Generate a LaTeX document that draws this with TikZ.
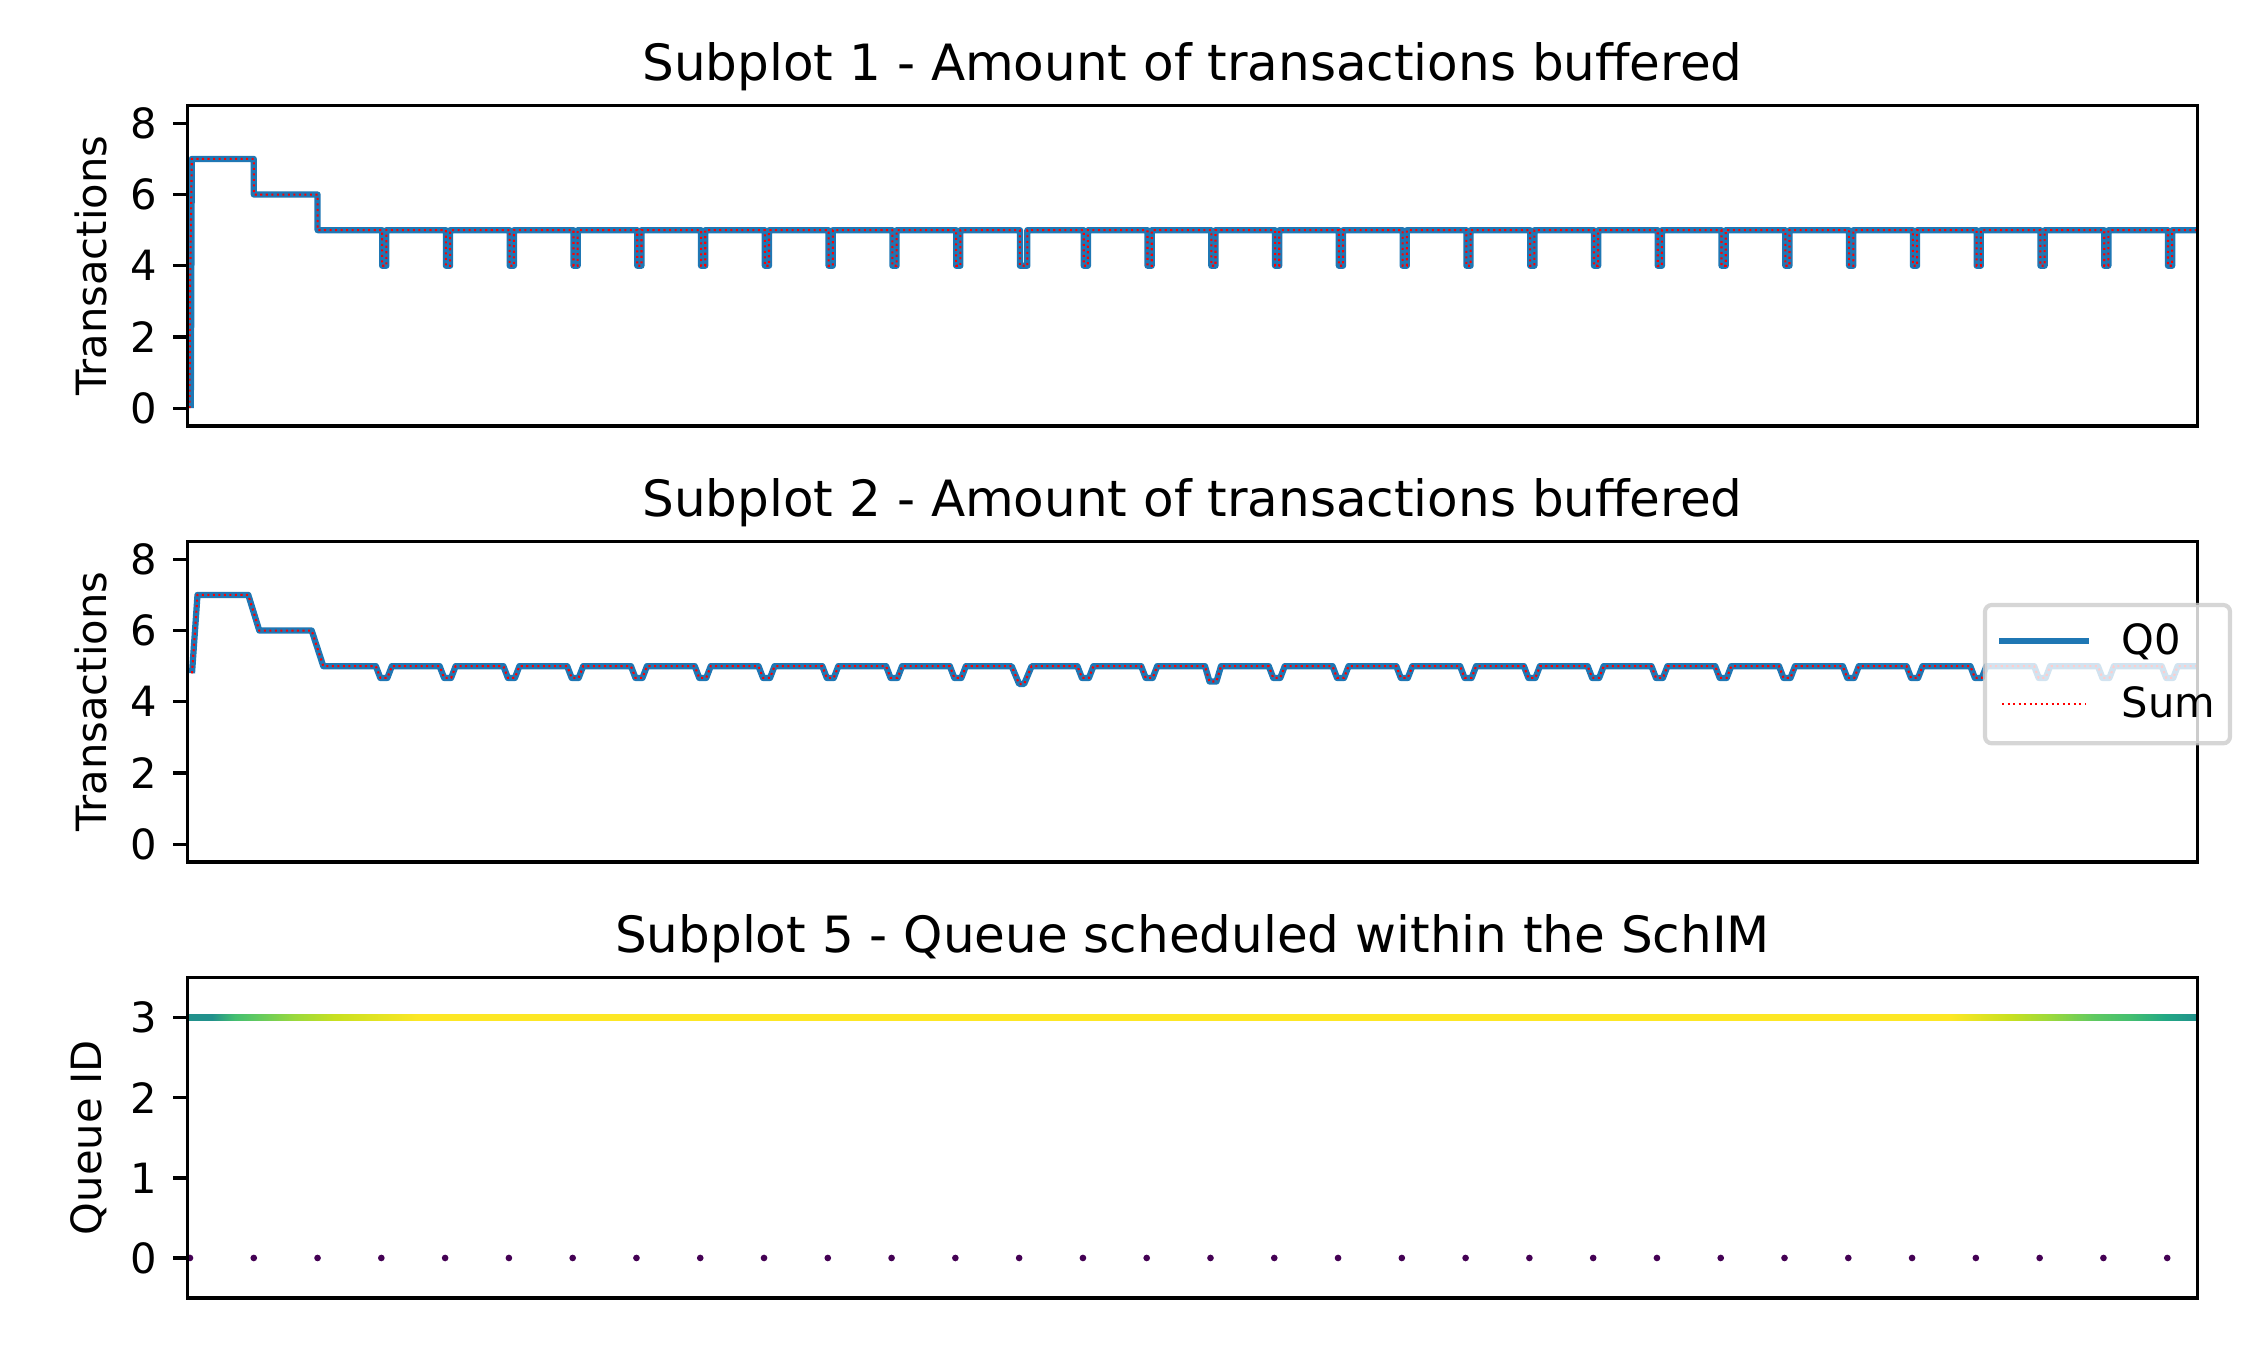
\documentclass[tikz,border=0pt]{standalone}
\usepackage{fontspec}
\setmainfont{DejaVu Sans}
\usepackage{tikz}

\definecolor{mplblue}{HTML}{1F77B4}
\definecolor{legendgray}{HTML}{CCCCCC}
\definecolor{v0}{HTML}{440154}
\definecolor{v50}{HTML}{21918C}
\definecolor{v60}{HTML}{22A884}
\definecolor{v70}{HTML}{44BF70}
\definecolor{v75}{HTML}{5EC962}
\definecolor{v85}{HTML}{9BD93C}
\definecolor{v92}{HTML}{C8E020}
\definecolor{v100}{HTML}{FDE725}

\tikzset{
  qline/.style={draw=mplblue, line width=1.5bp, line join=round},
  sumline/.style={draw=red, line width=0.5bp, dash pattern=on 0.5bp off 0.825bp},
  spine/.style={line width=0.8bp},
  tickmark/.style={line width=0.8bp},
  ticklab/.style={anchor=east, inner sep=0pt, xshift=-3.5bp, font=\fontsize{10bp}{12bp}\selectfont},
  titlelab/.style={anchor=base, inner sep=0pt, font=\fontsize{12bp}{14.4bp}\selectfont},
  ylab/.style={anchor=south, rotate=90, inner sep=0pt, font=\fontsize{10bp}{12bp}\selectfont},
  legendbox/.style={draw=legendgray, fill=white, opacity=0.8, line width=1bp, rounded corners=1.6bp},
  legtext/.style={anchor=base west, inner sep=0pt, font=\fontsize{10bp}{12bp}\selectfont}
}

\begin{document}
\begin{tikzpicture}[x=0.24bp, y=-0.24bp,
    panel/.style n args={3}{shift={(0,#1)}, y=#2, shift={(0,-#3)}}]
\useasboundingbox (0,0) rectangle (2250,1350);

% subplot 1
\begin{scope}[panel={105.5}{8.5467bp}{8.5}]
  \coordinate (a1-sw) at (187.5,-0.5);
  \coordinate (a1-ne) at (2197.5,8.5);
  \coordinate (a1-n) at (1192.5,8.5);
  \coordinate (a1-w) at (187.5,4);
  \begin{scope}
    \clip (a1-sw) rectangle (a1-ne);
    \draw[qline] (190.8,0) -- (191.8,7) -- (253.8,7) -- (253.8,6) -- (317.6,6) -- (317.6,5)
      \foreach \k [evaluate=\k as \xk using {190+63.78*\k},
                   evaluate=\k as \w using {ifthenelse(\k==13,7.4,4.2)}] in {3,...,31}
      { -- (\xk+0.8,5) -- ++(0,-1) -- ++(\w,0) -- ++(0,1) } -- (2200,5);
    \draw[sumline] (189.6,0) -- (189.9,3) -- (191.8,7) -- (253.8,7) -- (253.8,6) -- (317.6,6) -- (317.6,5)
      \foreach \k [evaluate=\k as \xk using {190+63.78*\k},
                   evaluate=\k as \w using {ifthenelse(\k==13,7.4,4.2)}] in {3,...,31}
      { -- (\xk+0.8,5) -- ++(0,-1) -- ++(\w,0) -- ++(0,1) } -- (2200,5);
  \end{scope}
  \draw[spine] (a1-sw) rectangle (a1-ne);
  \foreach \v in {0,2,...,8}
    \draw[tickmark] (187.5,\v) -- ++(-14.58,0) node[ticklab] (t1-\v) {\v};
  \node[titlelab] (title1) at ([yshift=6.1bp]a1-n) {Subplot 1 - Amount of transactions buffered};
  \node[ylab] (ylab1) at ([xshift=-19.15bp]a1-w) {Transactions};
\end{scope}

% subplot 2
\begin{scope}[panel={541.5}{8.5467bp}{8.5}]
  \coordinate (a2-sw) at (187.5,-0.5);
  \coordinate (a2-ne) at (2197.5,8.5);
  \coordinate (a2-n) at (1192.5,8.5);
  \coordinate (a2-w) at (187.5,4);
  \begin{scope}
    \clip (a2-sw) rectangle (a2-ne);
    \foreach \s in {qline,sumline}
      \draw[\s] (192,4.8) -- (197.5,7) -- (248.3,7) -- (259.3,6) -- (311.7,6) -- (323.3,5)
        \foreach \k [evaluate=\k as \xk using {192.5+63.78*\k},
                     evaluate=\k as \d using {ifthenelse(\k==13,4.5,ifthenelse(\k==16,4.57,4.67))},
                     evaluate=\k as \a using {ifthenelse(\k==13,10,8)},
                     evaluate=\k as \b using {ifthenelse(\k==13,2.5,3.5)}] in {3,...,31}
        { -- (\xk-\a,5) -- (\xk-\b,\d) -- (\xk+\b,\d) -- (\xk+\a,5) } -- (2200,5);
  \end{scope}
  \draw[spine] (a2-sw) rectangle (a2-ne);
  \foreach \v in {0,2,...,8}
    \draw[tickmark] (187.5,\v) -- ++(-14.58,0) node[ticklab] (t2-\v) {\v};
  \node[titlelab] (title2) at ([yshift=6.1bp]a2-n) {Subplot 2 - Amount of transactions buffered};
  \node[ylab] (ylab2) at ([xshift=-19.15bp]a2-w) {Transactions};
\end{scope}

% subplot 5
\begin{scope}[panel={977.5}{19.23bp}{3.5}]
  \coordinate (a3-sw) at (187.5,-0.5);
  \coordinate (a3-ne) at (2197.5,3.5);
  \coordinate (a3-n) at (1192.5,3.5);
  \coordinate (a3-w) at (187.5,1.5);
  \foreach \xa/\ca/\xb/\cb in {187.5/v50/212/v50, 212/v50/235/v70, 235/v70/255/v75,
      255/v75/295/v85, 295/v85/335/v92, 335/v92/420/v100, 420/v100/1950/v100,
      1950/v100/2010/v92, 2010/v92/2050/v85, 2050/v85/2095/v75, 2095/v75/2130/v70,
      2130/v70/2165/v60, 2165/v60/2197.5/v50}
    \shade[left color=\ca, right color=\cb] (\xa,2.96) rectangle (\xb,3.04);
  \foreach \k in {0,...,31}
    \fill[v0] ({190+63.78*\k},0) circle (0.8bp);
  \draw[spine] (a3-sw) rectangle (a3-ne);
  \foreach \v in {0,...,3}
    \draw[tickmark] (187.5,\v) -- ++(-14.58,0) node[ticklab] (t3-\v) {\v};
  \node[titlelab] (title3) at ([yshift=6.1bp]a3-n) {Subplot 5 - Queue scheduled within the SchIM};
  \node[ylab] (ylab3) at ([xshift=-19.15bp]a3-w) {Queue ID};
\end{scope}

% legend of subplot 2
\draw[legendbox] (1985,605) rectangle (2230,743.3);
\draw[qline] (1999,640.7) -- (2089,640.7);
\node[legtext] (legq) at (2120.7,654) {Q0};
\draw[sumline] (2002,704) -- (2086,704);
\node[legtext] (legs) at (2120.7,717.7) {Sum};
\end{tikzpicture}
\end{document}
